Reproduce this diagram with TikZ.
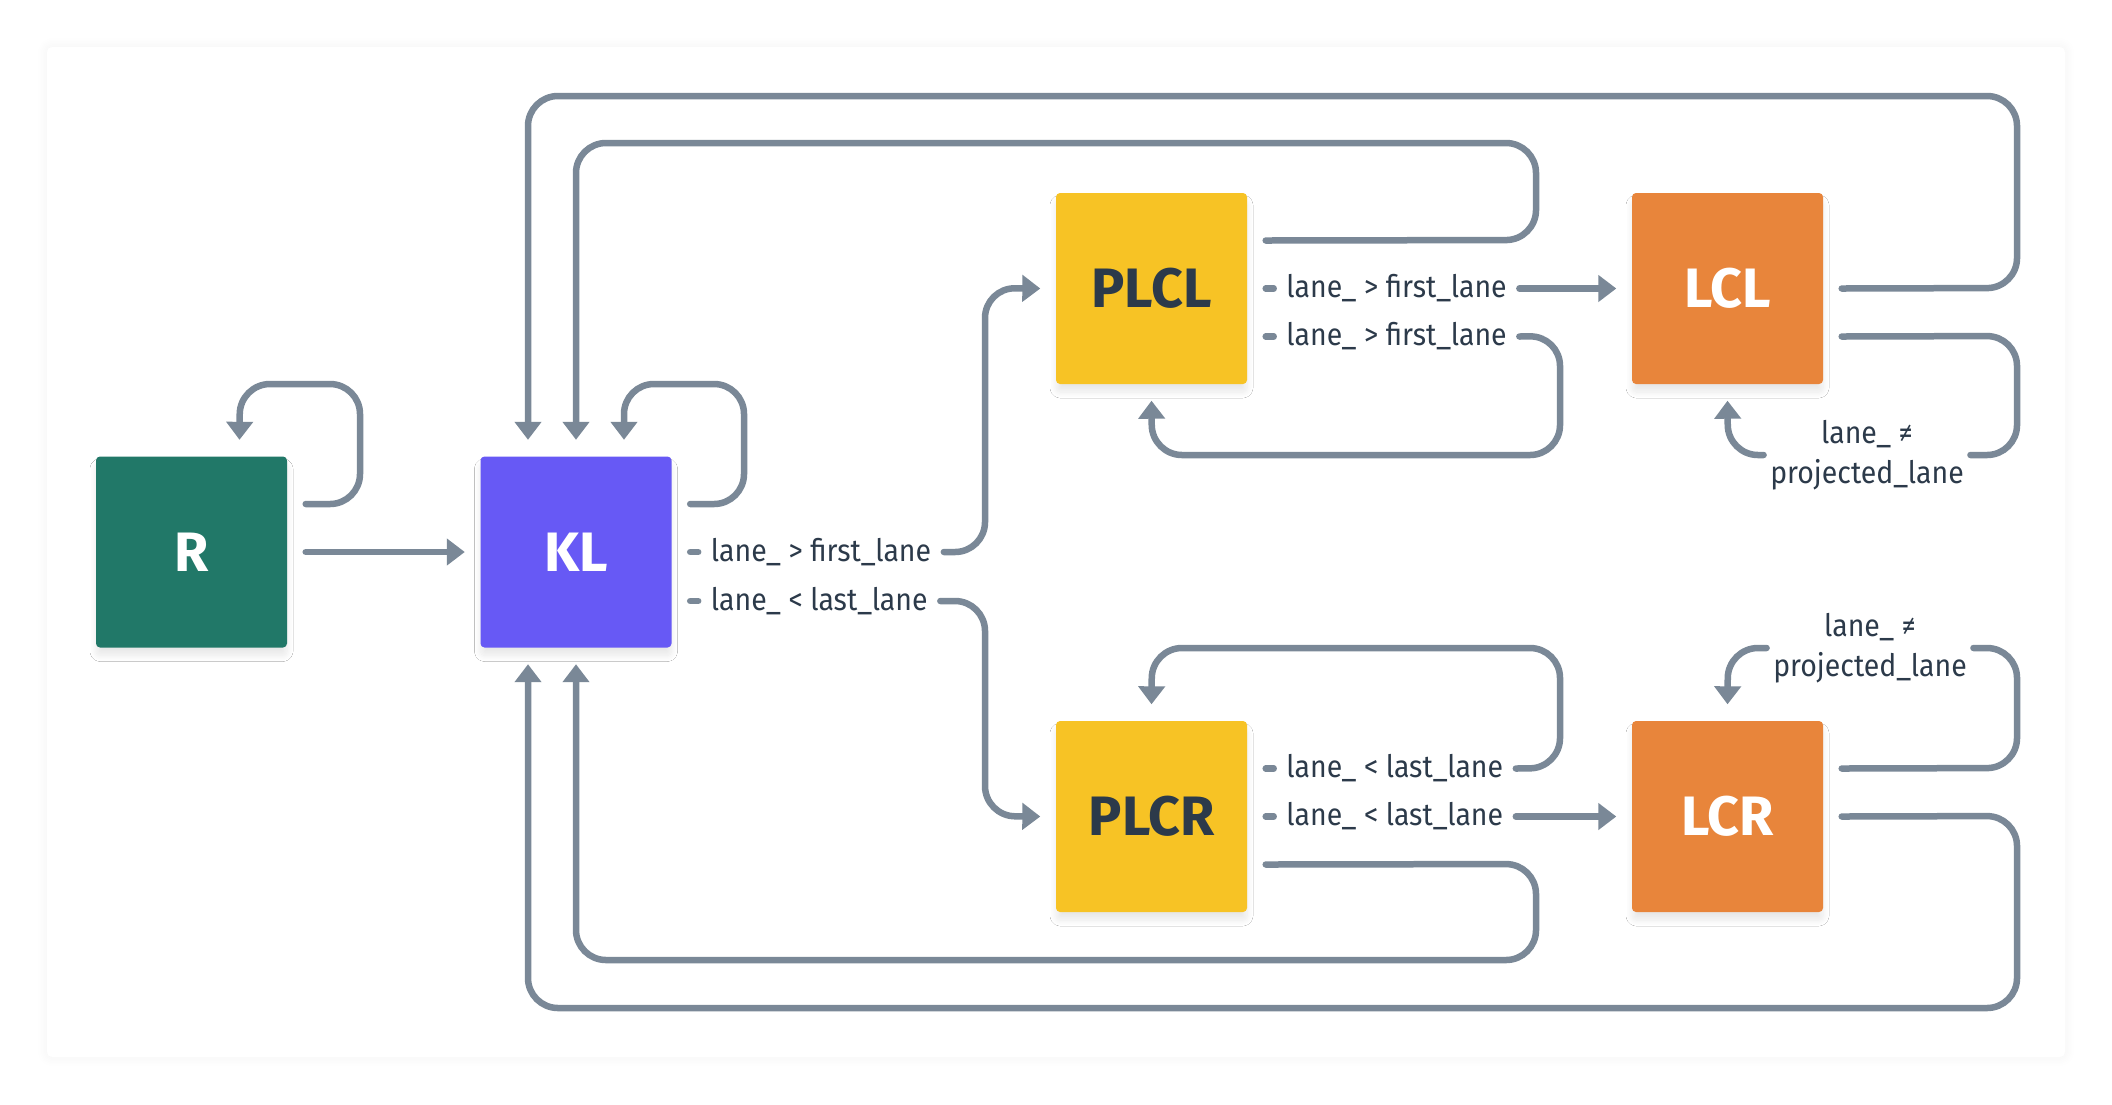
\documentclass[tikz,border=0pt]{standalone}
\usepackage{fontspec}
\setmainfont{Fira Sans}[FakeStretch=0.92]
\newfontfamily\boxfont{Fira Sans}
\usetikzlibrary{calc,arrows.meta,shadows.blur}
\definecolor{rgreen}{HTML}{217868}
\definecolor{klviolet}{HTML}{6759F5}
\definecolor{plyellow}{HTML}{F7C325}
\definecolor{lcorange}{HTML}{E8853B}
\definecolor{linkgrey}{HTML}{7A8897}
\definecolor{textdark}{HTML}{2C3A4A}
\tikzstyle{state}=[rectangle, minimum width=19.1mm, minimum height=19.1mm, inner sep=0pt, rounded corners=0.4mm, font=\boxfont\fontsize{15.8pt}{18pt}\selectfont\bfseries, blur shadow={shadow xshift=0mm, shadow yshift=-0.8mm, shadow blur radius=0.6mm, shadow blur steps=16, shadow opacity=9}]
\tikzstyle{cond}=[fill=white, inner xsep=1.2mm, inner ysep=0.4mm, text=textdark, font=\fontsize{8.8pt}{11.4pt}\selectfont]
\tikzstyle{link}=[line width=0.65mm, draw=linkgrey, rounded corners=3mm, line cap=round, -{Triangle[length=1.8mm, width=2.6mm]}]
\tikzstyle{stub}=[link, -]

\begin{document}
\begin{tikzpicture}[x=0.1mm, y=-0.1mm]

\useasboundingbox (0,0) rectangle (2112,1104);
\fill [white, rounded corners=0.5mm, blur shadow={shadow xshift=0mm, shadow yshift=0mm, shadow blur radius=1mm, shadow blur steps=16, shadow opacity=5}] (47,47) rectangle (2065,1057);

\node [state, fill=rgreen, text=white] (R) at (191.5,552) {R};
\node [state, fill=klviolet, text=white] (KL) at (576,552) {KL};
\node [state, fill=plyellow, text=textdark] (PLCL) at (1151.5,288.5) {PLCL};
\node [state, fill=lcorange, text=white] (LCL) at (1727.5,288.5) {LCL};
\node [state, fill=plyellow, text=textdark] (PLCR) at (1151.5,816.5) {PLCR};
\node [state, fill=lcorange, text=white] (LCR) at (1727.5,816.5) {LCR};

\node [cond, anchor=west] (kl1) at ($(KL.east)+(26,0)$) {lane\_ > first\_lane};
\node [cond, anchor=west] (kl2) at ($(KL.east)+(26,49)$) {lane\_ < last\_lane};
\node [cond, anchor=west] (pl1) at ($(PLCL.east)+(26,0)$) {lane\_ > first\_lane};
\node [cond, anchor=west] (pl2) at ($(PLCL.east)+(26,48)$) {lane\_ > first\_lane};
\node [cond, anchor=west] (pr1) at ($(PLCR.east)+(26,-48)$) {lane\_ < last\_lane};
\node [cond, anchor=west] (pr2) at ($(PLCR.east)+(26,0)$) {lane\_ < last\_lane};
\node [cond, align=center, inner xsep=0.6mm] (lc1) at (1867,455) {lane\_ ≠\\projected\_lane};
\node [cond, align=center, inner xsep=0.6mm] (lc2) at (1870,648) {lane\_ ≠\\projected\_lane};

\draw [link] ($(R.east)+(18,-48)$) -- (360,504) -- (360,384) -- (240,384) -- ($(R.north)+(48,-16)$);
\draw [link] ($(R.east)+(18,0)$) -- ($(KL.west)+(-15,0)$);

\draw [link] ($(KL.east)+(18,-48)$) -- (744,504) -- (744,384) -- (624,384) -- ($(KL.north)+(48,-16)$);
\draw [stub] ($(KL.east)+(18,0)$) -- (kl1.west);
\draw [link] (kl1.east) -- (985,552) -- (985,288) -- ($(PLCL.west)+(-15,0)$);
\draw [stub] ($(KL.east)+(18,49)$) -- (kl2.west);
\draw [link] (kl2.east) -- (985,601) -- (985,816) -- ($(PLCR.west)+(-15,0)$);

\draw [link] ($(PLCL.east)+(18,-48)$) -- (1536,240) -- (1536,143) -- (576,143) -- ($(KL.north)+(0,-16)$);
\draw [stub] ($(PLCL.east)+(18,0)$) -- (pl1.west);
\draw [link] (pl1.east) -- ($(LCL.west)+(-15,0)$);
\draw [stub] ($(PLCL.east)+(18,48)$) -- (pl2.west);
\draw [link] (pl2.east) -- (1560,336) -- (1560,455) -- (1152,455) -- ($(PLCL.south)+(0,16)$);

\draw [link] ($(LCL.east)+(18,0)$) -- (2017,288) -- (2017,96) -- (528,96) -- ($(KL.north)+(-48,-16)$);
\draw [stub] ($(LCL.east)+(18,48)$) -- (2017,336) -- (2017,455) -- (lc1.east);
\draw [link] (lc1.west) -- (1728,455) -- ($(LCL.south)+(0,16)$);

\draw [stub] ($(PLCR.east)+(18,-48)$) -- (pr1.west);
\draw [link] (pr1.east) -- (1560,768) -- (1560,648) -- (1152,648) -- ($(PLCR.north)+(0,-16)$);
\draw [stub] ($(PLCR.east)+(18,0)$) -- (pr2.west);
\draw [link] (pr2.east) -- ($(LCR.west)+(-15,0)$);
\draw [link] ($(PLCR.east)+(18,48)$) -- (1536,864) -- (1536,960) -- (576,960) -- ($(KL.south)+(0,16)$);

\draw [stub] ($(LCR.east)+(18,-48)$) -- (2017,768) -- (2017,648) -- (lc2.east);
\draw [link] (lc2.west) -- (1728,648) -- ($(LCR.north)+(0,-16)$);
\draw [link] ($(LCR.east)+(18,0)$) -- (2017,816) -- (2017,1008) -- (528,1008) -- ($(KL.south)+(-48,16)$);

\end{tikzpicture}
\end{document}
